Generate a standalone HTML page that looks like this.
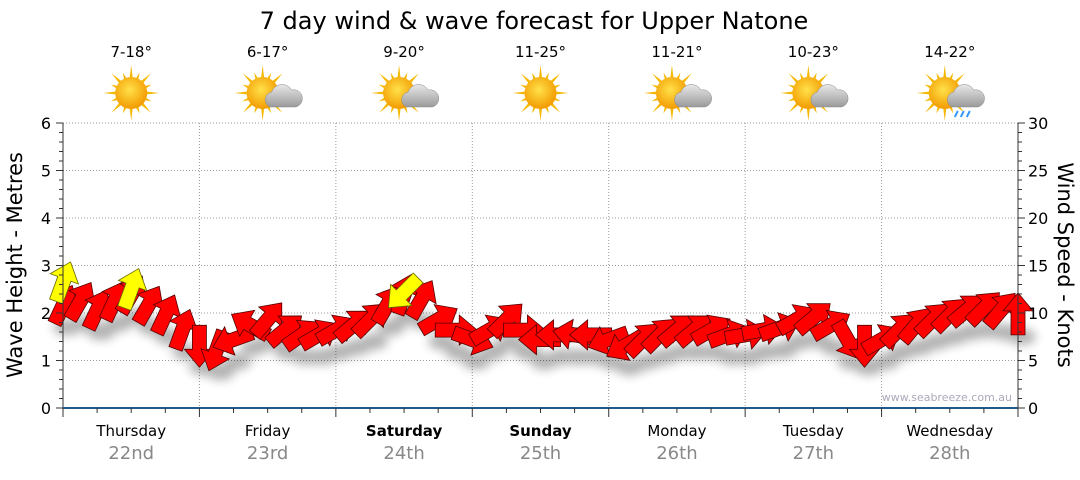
<!DOCTYPE html>
<html><head><meta charset="utf-8"><style>
body{margin:0;background:#fff;font-family:"Liberation Sans",sans-serif}
svg text{font-family:"DejaVu Sans","Liberation Sans",sans-serif}
</style></head><body>
<svg id="c" width="1080" height="475" xmlns="http://www.w3.org/2000/svg">
<defs>
<radialGradient id="sun" cx="45%" cy="40%" r="60%"><stop offset="0" stop-color="#ffe14a"/><stop offset="1" stop-color="#f39a00"/></radialGradient>
<linearGradient id="cloud" x1="0" y1="0" x2="0" y2="1"><stop offset="0" stop-color="#e8e8e8"/><stop offset="1" stop-color="#9a9a9a"/></linearGradient>
<filter id="sh" x="-50%" y="-50%" width="200%" height="200%"><feGaussianBlur stdDeviation="5"/></filter>
</defs>
<text x="534" y="29" font-size="24" text-anchor="middle" fill="#000">7 day wind &amp; wave forecast for Upper Natone</text>
<g id="grid"></g><g id="icons"></g><g id="shadows" filter="url(#sh)" opacity="0.3"></g><g id="arrows"></g><g id="axes"></g>
<text x="1012" y="401" font-size="11" fill="#aab" text-anchor="end">www.seabreeze.com.au</text>
<text transform="translate(22,265) rotate(-90)" font-size="21" text-anchor="middle">Wave Height - Metres</text>
<text transform="translate(1058,265) rotate(90)" font-size="21" text-anchor="middle">Wind Speed - Knots</text>
</svg>
<script>
const days=["Thursday","Friday","Saturday","Sunday","Monday","Tuesday","Wednesday"];
const dates=["22nd","23rd","24th","25th","26th","27th","28th"];
const temps=["7-18°","6-17°","9-20°","11-25°","11-21°","10-23°","14-22°"];
const weather=["sun","cloud","cloud","sun","cloud","cloud","rain"];
const waveTicks=[0,1,2,3,4,5,6];
const windTicks=[0,5,10,15,20,25,30];
const windKn=[10.8,11.2,10.3,11.2,11.9,10.8,9.8,8.2,6.6,6.1,7.2,8.7,9.3,8.2,7.7,7.7,8.2,8.7,9.3,10.8,11.9,11.4,9.3,8.2,7.2,8.2,9.3,8.2,7.2,7.7,7.7,7.7,7.2,6.6,7.2,7.7,8.2,8.2,8.2,7.7,7.7,8.2,8.4,9.3,9.5,8.7,7.2,6.6,7.2,8.2,8.7,9.3,9.8,10.3,10.5,10.3,9.8];
const windDir=[25,30,25,25,30,30,25,20,180,200,250,300,40,50,55,60,60,50,45,30,20,30,60,90,110,60,45,90,270,270,280,270,250,240,45,45,50,50,60,70,80,80,70,60,50,60,150,180,60,45,40,45,45,50,45,40,0];
const gustIdx=[0,4,20];
const gustKn=[13.2,12.5,12.2];
const gustDir=[20,20,225];
const NS="http://www.w3.org/2000/svg";
const X0=63,X1=1018,Y0=408,YT=123;
const dayW=(X1-X0)/7;
const xIdx=i=>X0+i*(X1-X0)/56;
const yWave=m=>Y0-m*(Y0-YT)/6;
const yKn=k=>Y0-k*(Y0-YT)/30;
function el(t,a,p){const e=document.createElementNS(NS,t);for(const k in a)e.setAttribute(k,a[k]);(p||document.getElementById('c')).appendChild(e);return e;}
const grid=document.getElementById('grid'),axes=document.getElementById('axes');
waveTicks.forEach(v=>{if(v>0){const l=el('line',{x1:X0,x2:X1,y1:yWave(v),y2:yWave(v),stroke:'#999','stroke-dasharray':'1,2'},grid);}
 const t=el('text',{x:X0-12,y:yWave(v)+6,'font-size':16,'text-anchor':'end'},axes);t.textContent=v;});
windTicks.forEach(v=>{const t=el('text',{x:X1+10,y:yKn(v)+6,'font-size':16},axes);t.textContent=v;});
for(let m=0;m<=30;m++){const y=Y0-m*(Y0-YT)/30;el('line',{x1:X0-(m%5?4:7),x2:X0,y1:y,y2:y,stroke:'#333'},axes);el('line',{x1:X1,x2:X1+(m%5?4:7),y1:y,y2:y,stroke:'#333'},axes);}
el('line',{x1:X0,x2:X0,y1:YT,y2:Y0,stroke:'#333'},axes);
el('line',{x1:X1,x2:X1,y1:YT,y2:Y0,stroke:'#333'},axes);
el('line',{x1:X0,x2:X1,y1:Y0,y2:Y0,stroke:'#1f5a8a','stroke-width':2},axes);
for(let q=0;q<=28;q++){const x=X0+q*dayW/4;el('line',{x1:x,x2:x,y1:Y0,y2:Y0+(q%4?5:9),stroke:'#333'},axes);}
days.forEach((d,i)=>{const cx=X0+(i+0.5)*dayW;
 if(i>0){const l=el('line',{x1:X0+i*dayW,x2:X0+i*dayW,y1:YT,y2:Y0,stroke:'#999','stroke-dasharray':'1,2'},grid);}
 const t=el('text',{x:cx,y:436,'font-size':15,'text-anchor':'middle','font-weight':(i==2||i==3)?'bold':'normal'},axes);t.textContent=d;
 const t2=el('text',{x:cx,y:459,'font-size':18,'text-anchor':'middle',fill:'#888'},axes);t2.textContent=dates[i];
 const t3=el('text',{x:cx,y:57,'font-size':15,'text-anchor':'middle'},axes);t3.textContent=temps[i];
 const g=el('g',{transform:`translate(${cx},93)`},document.getElementById('icons'));
 const sx=weather[i]=='sun'?0:-5;
 for(let r=0;r<16;r++){const a=r*Math.PI/8,L=r%2?22:28;el('polygon',{points:`${sx+Math.cos(a-0.12)*14},${Math.sin(a-0.12)*14} ${sx+Math.cos(a)*L},${Math.sin(a)*L} ${sx+Math.cos(a+0.12)*14},${Math.sin(a+0.12)*14}`,fill:'#f5b800'},g);}
 el('circle',{cx:sx,cy:0,r:16,fill:'url(#sun)'},g);
 if(weather[i]!='sun'){el('path',{d:'M2,14 a8,8 0 0 1 2,-15 a11,11 0 0 1 20,-2 a8,8 0 0 1 4,17 z',fill:'url(#cloud)',stroke:'#888','stroke-width':0.5},g);}
 if(weather[i]=='rain'){el('path',{d:'M8,18 l-3,6 M14,18 l-3,6 M20,18 l-3,6',stroke:'#39f','stroke-width':2},g);}
});
const AP="M0,-22 L15,-4 L7,-4 L7,20 L-7,20 L-7,-4 L-15,-4 Z";
const arrows=document.getElementById('arrows'),sh=document.getElementById('shadows');
windKn.forEach((k,i)=>{const x=xIdx(i),y=yKn(k);
 el('ellipse',{cx:x+4,cy:y+22,rx:14,ry:8,fill:'#000'},sh);
 const a=el('path',{d:AP,transform:`translate(${x},${y}) rotate(${windDir[i]})`,fill:'#ff0000',stroke:'#500','stroke-width':0.8},arrows);
 });
gustIdx.forEach((gi,j)=>{const a=el('path',{d:AP,transform:`translate(${xIdx(gi)},${yKn(gustKn[j])}) rotate(${gustDir[j]})`,fill:'#ffff00',stroke:'#660','stroke-width':0.8},arrows);
 });
</script>
</body></html>
